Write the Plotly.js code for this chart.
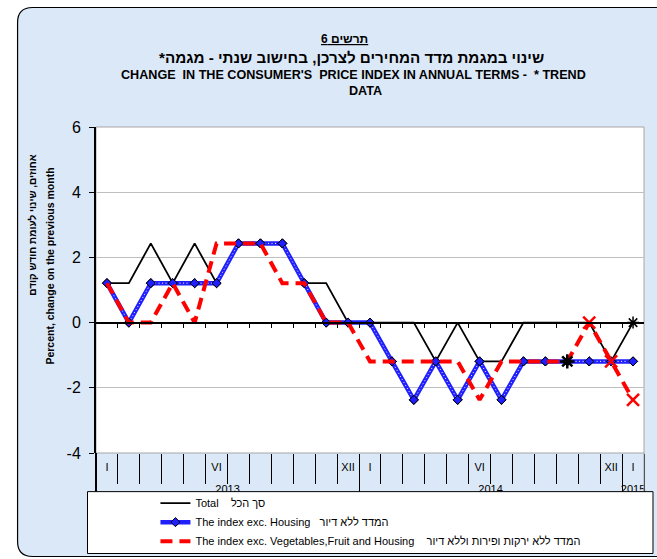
<!DOCTYPE html>
<html><head><meta charset="utf-8">
<script src="https://cdn.plot.ly/plotly-3.0.1.min.js"></script>
<style>html,body{margin:0;padding:0;background:#fff}#chart{width:657px;height:559px}</style>
</head><body><div id="chart"></div>
<script>
// ---- data ----
const monthLabels = ['I','','','','','VI','','','','','','XII','I','','','','','VI','','','','','','XII','I'];
const years = ['2013','2014','2015'];
const yearFirst = [0, 12, 24];
const yearLast = [11, 23, 24];
const yTicks = [-4, -2, 0, 2, 4, 6];
const total = [1.21,1.21,2.43,1.21,2.43,1.21,2.43,2.43,2.43,1.21,1.21,0,0,0,0,-1.19,0,-1.19,-1.19,0,0,0,0,-1.19,0];
const excHousing = [1.21,0,1.21,1.21,1.21,1.21,2.43,2.43,2.43,1.21,0,0,0,-1.19,-2.37,-1.19,-2.37,-1.19,-2.37,-1.19,-1.19,-1.19,-1.19,-1.19,-1.19];
const excVegFruitHousing = [1.21,0,0,1.21,0,2.43,2.43,2.43,1.21,1.21,0,0,-1.19,-1.19,-1.19,-1.19,-1.19,-2.37,-1.19,-1.19,-1.19,-1.19,0,-1.19,-2.37];
const seriesNames = ['Total\u00a0\u00a0\u00a0\u00a0סך הכל',
  'The index exc. Housing\u00a0\u00a0\u00a0המדד ללא דיור',
  'The index exc. Vegetables,Fruit and Housing\u00a0\u00a0\u00a0\u00a0המדד ללא ירקות ופירות וללא דיור'];

// ---- geometry helpers (pixels -> paper) ----
const L = 95.5, R = 644, T = 126.7, B = 453.3;
const px = x => (x - L) / (R - L);
const py = y => (B - y) / (B - T);
const FONT = 'Liberation Sans, Arial, sans-serif';
const rtl = s => '\u202B' + s + '\u202C';

const xs = monthLabels.map((_, i) => i);
const n = xs.length;
const bounds = xs.slice(0, n - 1).map(i => i + 0.5);
const labIdx = xs.filter(i => monthLabels[i] !== '');
const yearCenters = years.map((_, k) => (yearFirst[k] + yearLast[k]) / 2);
const yearBounds = yearLast.map(v => v + 0.5);

const clear = 'rgba(0,0,0,0)';
const traces = [
  {x: xs, y: total, name: seriesNames[0], mode: 'lines+markers',
   line: {color: '#000', width: 1.8},
   marker: {symbol: 'asterisk-open', size: 10, color: xs.map(i => i === n - 1 ? '#000' : clear), line: {width: 1.5}}},
  {x: xs, y: excHousing, name: seriesNames[1], mode: 'lines+markers',
   line: {color: '#1f1fff', width: 4.5},
   marker: {symbol: 'diamond', size: 7, color: '#1f1fff', line: {color: '#000', width: 1}}},
  {x: xs, y: excHousing, mode: 'lines', showlegend: false, hoverinfo: 'skip',
   line: {color: '#ffffff', width: 1, dash: '1px,2.5px'}},
  {x: xs, y: excHousing, mode: 'markers', showlegend: false, hoverinfo: 'skip',
   marker: {symbol: 'diamond', size: 7, color: '#1f1fff', line: {color: '#000', width: 1}}},
  {x: xs, y: excVegFruitHousing, name: seriesNames[2], mode: 'lines+markers',
   line: {color: '#ff0000', width: 4, dash: '12px,7px'},
   marker: {symbol: xs.map(i => i === n - 4 ? 'asterisk-open' : 'x-thin-open'), size: 12,
            color: xs.map(i => i < n - 4 ? clear : (i === n - 4 ? '#000' : '#ff0000')), line: {width: 2.5}}},
  // dummy traces for the extra axes
  {x: [null], y: [null], xaxis: 'x2', showlegend: false, hoverinfo: 'skip'},
  {x: [null], y: [null], xaxis: 'x3', showlegend: false, hoverinfo: 'skip'},
  {x: [null], y: [null], xaxis: 'x4', showlegend: false, hoverinfo: 'skip'}
];

const xr = [-0.5, n - 0.5];
const layout = {
  width: 657, height: 559,
  margin: {l: L, r: 657 - R, t: T, b: 559 - B, pad: 0, autoexpand: false},
  paper_bgcolor: '#ffffff', plot_bgcolor: '#ffffff',
  showlegend: true,
  font: {family: FONT, color: '#000'},
  xaxis: {range: xr, showgrid: false, zeroline: false, showline: false, ticks: '', showticklabels: false, fixedrange: true},
  xaxis2: {overlaying: 'x', anchor: 'free', position: 0.4, range: xr, showgrid: false, zeroline: false,
           showline: true, linecolor: '#000', linewidth: 2, ticks: 'outside', ticklen: 4, tickwidth: 1, tickcolor: '#000',
           tickmode: 'array', tickvals: bounds, showticklabels: false},
  xaxis3: {overlaying: 'x', anchor: 'free', position: 0, range: xr, showgrid: false, zeroline: false, showline: false,
           tickmode: 'array', tickvals: labIdx, ticktext: labIdx.map(i => monthLabels[i]),
           ticks: 'outside', ticklen: 4, tickcolor: clear, tickfont: {size: 11, family: FONT},
           minor: {tickmode: 'array', tickvals: bounds, ticks: 'outside', ticklen: 30, tickwidth: 1, tickcolor: '#000'}},
  xaxis4: {overlaying: 'x', anchor: 'free', position: 0, range: xr, showgrid: false, zeroline: false, showline: false,
           tickmode: 'array', tickvals: yearCenters, ticktext: years,
           ticks: 'outside', ticklen: 26, tickcolor: clear, tickfont: {size: 11, family: FONT},
           minor: {tickmode: 'array', tickvals: yearBounds, ticks: 'outside', ticklen: 39, tickwidth: 1, tickcolor: '#000'}},
  yaxis: {range: [-4, 6], tickmode: 'array', tickvals: yTicks, ticktext: yTicks.map(String),
          showgrid: true, gridcolor: '#bfbfbf', gridwidth: 1, zeroline: false,
          showline: true, linecolor: '#000', linewidth: 2, ticks: 'outside', ticklen: 5, tickcolor: '#000',
          ticklabelstandoff: 5, tickfont: {size: 16, family: FONT}, fixedrange: true},
  legend: {x: px(155), y: py(489), xanchor: 'left', yanchor: 'top', bgcolor: clear, borderwidth: 0,
           font: {size: 11, family: FONT}, tracegroupgap: 0, traceorder: 'normal'},
  shapes: [
    {type: 'path', xref: 'paper', yref: 'paper', layer: 'below',
     path: `M${px(32)},${py(7)} L${px(700)},${py(7)} L${px(700)},${py(557)} L${px(32)},${py(557)} Q${px(17)},${py(557)} ${px(17)},${py(542)} L${px(17)},${py(22)} Q${px(17)},${py(7)} ${px(32)},${py(7)} Z`,
     fillcolor: '#dbe8f7', line: {color: '#000', width: 1.2}},
    {type: 'rect', xref: 'paper', yref: 'paper', layer: 'below', x0: 0, x1: 1, y0: 0, y1: 1,
     fillcolor: '#ffffff', line: {color: '#a6a6a6', width: 1}},
    {type: 'line', xref: 'paper', yref: 'paper', x0: 1, x1: 1, y0: 0, y1: py(492), line: {color: '#a6a6a6', width: 1}},
    {type: 'line', xref: 'paper', yref: 'paper', x0: 0, x1: 0, y0: 0, y1: py(492), line: {color: '#000', width: 2}},
    {type: 'rect', xref: 'paper', yref: 'paper', layer: 'above', x0: px(87), x1: px(653), y0: py(492), y1: py(554),
     fillcolor: '#ffffff', line: {color: '#000', width: 1}}
  ],
  annotations: [
    {text: '<u><b>' + rtl('תרשים 6') + '</b></u>', x: px(344), y: py(39), font: {size: 12}},
    {text: '<b>' + rtl('שינוי במגמת מדד המחירים לצרכן, בחישוב שנתי - מגמה*') + '</b>', x: px(351), y: py(57), font: {size: 15.2}},
    {text: "<b>CHANGE&nbsp; IN THE CONSUMER'S&nbsp; PRICE INDEX IN ANNUAL TERMS -&nbsp; * TREND</b>", x: px(353), y: py(75), font: {size: 12.6}},
    {text: '<b>DATA</b>', x: px(365), y: py(91), font: {size: 12.6}},
    {text: '<b>' + rtl('אחוזים, שינוי לעומת חודש קודם') + '</b>', x: px(32), y: py(225), textangle: -90, font: {size: 10}},
    {text: '<b>Percent, change on the previous month</b>', x: px(50), y: py(266), textangle: -90, font: {size: 10.5}}
  ].map(a => Object.assign({xref: 'paper', yref: 'paper', showarrow: false, xanchor: 'center', yanchor: 'middle'}, a))
};
layout.annotations.forEach(a => { a.font = Object.assign({family: FONT, color: '#000'}, a.font); });

Plotly.newPlot('chart', traces, layout, {displayModeBar: false, staticPlot: true});
</script>
</body></html>
